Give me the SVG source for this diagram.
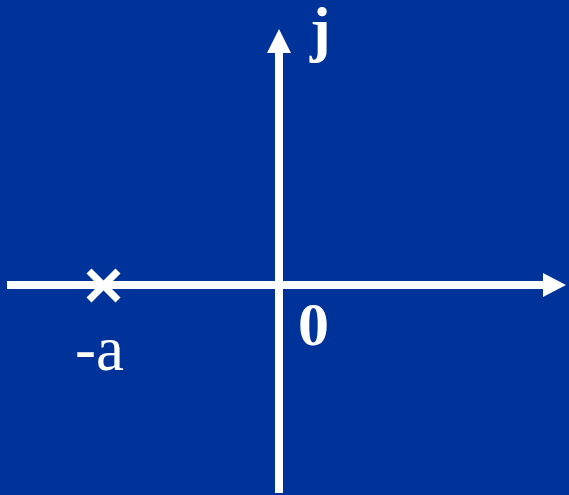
<svg xmlns="http://www.w3.org/2000/svg" width="569" height="495" viewBox="0 0 569 495">
<style>
.ax{stroke:#fff;stroke-width:8;fill:none}
.hd{fill:#fff}
.b{font-family:"Liberation Serif","Times New Roman",serif;font-weight:bold;font-size:62px;fill:#fff}
.r{font-family:"Liberation Serif","Times New Roman",serif;font-size:63px;fill:#fff}
.x{stroke:#fff;stroke-width:7;fill:none}
</style>
<rect width="569" height="495" fill="#003399"/>
<g id="connectors">
<line class="ax" x1="7" y1="285" x2="545" y2="285"/>
<polygon class="hd" points="566,285 543,273 543,297"/>
<line class="ax" x1="279" y1="493" x2="279" y2="51"/>
<polygon class="hd" points="279,29 267,53 291,53"/>
</g>
<g id="pole">
<line class="x" x1="89" y1="271" x2="118" y2="300"/>
<line class="x" x1="118" y1="271" x2="89" y2="300"/>
</g>
<g id="labels">
<text class="b" x="310" y="50">j</text>
<text class="b" x="298" y="345">0</text>
<text class="r" x="75" y="370">-a</text>
</g>
</svg>
